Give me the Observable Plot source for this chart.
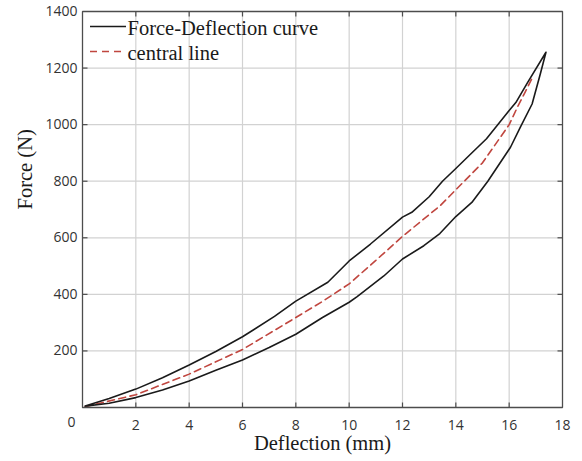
<!DOCTYPE html>
<html><head><meta charset="utf-8">
<script src="https://cdn.jsdelivr.net/npm/d3@7"></script>
<script src="https://cdn.jsdelivr.net/npm/@observablehq/plot@0.6"></script>
<style>body{margin:0;background:#fff}#chart svg{display:block}</style>
</head><body><div id="chart"></div>
<script>
// Loading branch (upper curve)
const loadDefl  = [0.1, 1, 2, 3, 4, 5, 6, 7.2, 8, 9.2, 10, 10.8, 12, 12.35, 13.0, 13.5, 14, 14.5, 15.15, 16, 16.25, 16.7, 17.38];
const loadForce = [5, 32, 65, 105, 150, 198, 250, 322, 376, 443, 518, 578, 673, 690, 745, 800, 845, 891, 950, 1050, 1078, 1150, 1256];
// Unloading branch (lower curve)
const unloadDefl  = [17.38, 17.17, 16.86, 16.42, 16.05, 15.2, 14.6, 14, 13.4, 12.8, 12, 11.3, 10.3, 10, 9, 8, 7, 6, 5, 4, 3, 2, 1, 0.1];
const unloadForce = [1256, 1180, 1073, 991, 920, 800, 725, 675, 615, 572, 525, 465, 392, 372, 318, 259, 212, 168, 132, 94, 62, 35, 15, 5];
// Central line
const centralDefl  = [0.1, 2, 4, 6, 7.24, 8, 9, 10, 11, 12, 13.42, 14, 15, 16, 16.3, 16.6, 16.9];
const centralForce = [3, 45, 118, 205, 275, 318, 375, 437, 520, 605, 714, 770, 865, 1000, 1060, 1115, 1172];

const xTicks = [2, 4, 6, 8, 10, 12, 14, 16, 18];
const yTicks = [200, 400, 600, 800, 1000, 1200, 1400];
const xGrid = [2, 4, 6, 8, 10, 12, 14, 16];
const yGrid = [200, 400, 600, 800, 1000, 1200];
const xDomain = [0, 18];
const yDomain = [0, 1400];
const originLabel = ["0"];
const legendLabels = ["Force-Deflection curve", "central line"];
const xLabel = "Deflection (mm)";
const yLabel = "Force (N)";

const rows = (xs, ys) => xs.map((x, i) => ({x, y: ys[i]}));
const loopRows = rows(loadDefl.concat(unloadDefl), loadForce.concat(unloadForce));
const centralRows = rows(centralDefl, centralForce);

// inward tick length: about 5 px expressed in data units of each axis
const xTickLen = (xDomain[1] - xDomain[0]) * 5 / 480;
const yTickLen = (yDomain[1] - yDomain[0]) * 5 / 396;
const [x0, x1] = xDomain, [y0, y1] = yDomain;
const gridRows = [
  ...xGrid.flatMap(v => [{x: v, y: y0, k: "x" + v}, {x: v, y: y1, k: "x" + v}]),
  ...yGrid.flatMap(v => [{x: x0, y: v, k: "y" + v}, {x: x1, y: v, k: "y" + v}])
];
const frameRows = [{x: x0, y: y0}, {x: x1, y: y0}, {x: x1, y: y1}, {x: x0, y: y1}, {x: x0, y: y0}];
const tickRows = [
  ...xGrid.flatMap(v => [{x: v, y: y0, k: "b" + v}, {x: v, y: y0 + yTickLen, k: "b" + v},
                         {x: v, y: y1, k: "t" + v}, {x: v, y: y1 - yTickLen, k: "t" + v}]),
  ...yGrid.flatMap(v => [{x: x0, y: v, k: "l" + v}, {x: x0 + xTickLen, y: v, k: "l" + v},
                         {x: x1, y: v, k: "r" + v}, {x: x1 - xTickLen, y: v, k: "r" + v}])
];

const serif = "'Liberation Serif', 'Times New Roman', serif";
const sans = "'Open Sans', 'Liberation Sans', sans-serif";
const red = "#c0463f";
const tickColor = "#4d4d4d";
const gridColor = "#d2d2d2";

function legend() {
  const g = d3.create("svg:g");
  const items = [
    {label: legendLabels[0], y: 26.5, stroke: "#1a1a1a", dash: null, base: 35},
    {label: legendLabels[1], y: 51.5, stroke: red, dash: "7,5", base: 59.5}
  ];
  for (const it of items) {
    g.append("line").attr("x1", 90).attr("x2", 126).attr("y1", it.y).attr("y2", it.y)
      .attr("stroke", it.stroke).attr("stroke-width", 1.6).attr("stroke-dasharray", it.dash);
    g.append("text").attr("x", 127.5).attr("y", it.base).attr("text-anchor", "start").text(it.label)
      .attr("font-family", serif).attr("font-size", 20.5).attr("fill", "#1a1a1a");
  }
  return g.node();
}

const chart = Plot.plot({
  width: 582,
  height: 461,
  marginLeft: 82,
  marginRight: 20,
  marginTop: 11,
  marginBottom: 54,
  x: {domain: xDomain},
  y: {domain: yDomain},
  marks: [
    Plot.line(gridRows, {x: "x", y: "y", z: "k", stroke: gridColor, strokeWidth: 1.2, strokeLinecap: "butt"}),
    Plot.line(centralRows, {x: "x", y: "y", stroke: red, strokeWidth: 1.6, strokeDasharray: "7,4.5"}),
    Plot.line(loopRows, {x: "x", y: "y", stroke: "#1a1a1a", strokeWidth: 1.6}),
    Plot.line(frameRows, {x: "x", y: "y", stroke: tickColor, strokeWidth: 1.3, strokeLinejoin: "miter"}),
    Plot.line(tickRows, {x: "x", y: "y", z: "k", stroke: tickColor, strokeWidth: 1.2, strokeLinecap: "butt"}),
    Plot.axisX(xTicks, {tickSize: 0, tickPadding: 13, fontSize: 14, fontFamily: sans, fill: "#333", label: null, tickFormat: d => String(d)}),
    Plot.axisY(yTicks, {tickSize: 0, tickPadding: 5, fontSize: 14, fontFamily: sans, fill: "#333", label: null, tickFormat: d => String(d)}),
    Plot.text(originLabel, {x: 0, y: 0, text: d => d, dx: -11, dy: 15, fontSize: 14, fontFamily: sans, fill: "#333"}),
    Plot.text([xLabel], {frameAnchor: "bottom", text: d => d, dy: 42, fontSize: 20.5, fontFamily: serif, fill: "#1a1a1a"}),
    Plot.text([yLabel], {frameAnchor: "left", text: d => d, dx: -57, rotate: -90, fontSize: 20.5, fontFamily: serif, fill: "#1a1a1a"}),
    legend
  ]
});
document.getElementById("chart").appendChild(chart);
</script>
</body></html>
